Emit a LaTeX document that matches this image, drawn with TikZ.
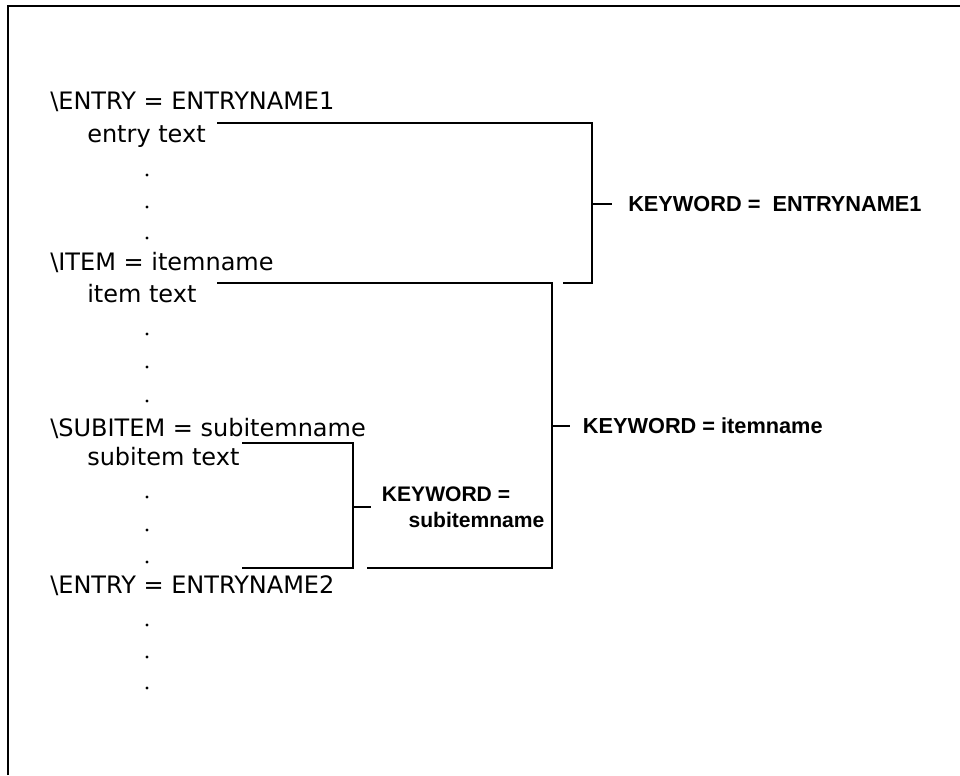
\documentclass[tikz,border=0pt]{standalone}
\usepackage{fontspec}
\setmainfont{DejaVu Sans}
\newfontfamily\kwfont{Liberation Sans}
\usetikzlibrary{positioning}

\begin{document}
\begin{tikzpicture}[
  x=0.75pt, y=-0.75pt,
  codeline/.style={inner sep=0pt, anchor=mid west, font=\fontsize{18}{21}\selectfont},
  vdot/.style={circle, fill, inner sep=0pt, minimum size=2.6pt},
  keyword/.style={inner sep=0pt, align=left, font=\kwfont\fontsize{16.3}{19.5}\selectfont\bfseries},
  bracket/.style={line width=1.5pt},
  frame/.style={line width=2.2pt}
]
\useasboundingbox (0,0) rectangle (960,775);

% Frame (left and top edges only)
\draw[frame] (8,775) -- (8,6) -- (960,6);

% Index source lines
\node[codeline] (entryA) at (50,106) {\textbackslash ENTRY = ENTRYNAME1};
\node[codeline] (entryAtxt) at (87,139) {entry text};
\node[vdot] (dA1) at (147,175) {};
\node[vdot] (dA2) at (147,207) {};
\node[vdot] (dA3) at (147,238) {};
\node[codeline] (item) at (50,267) {\textbackslash ITEM = itemname};
\node[codeline] (itemtxt) at (87,299) {item text};
\node[vdot] (dB1) at (147,334) {};
\node[vdot] (dB2) at (147,367) {};
\node[vdot] (dB3) at (147,401) {};
\node[codeline] (subitem) at (50,433) {\textbackslash SUBITEM = subitemname};
\node[codeline] (subitemtxt) at (87,462) {subitem text};
\node[vdot] (dC1) at (147,497) {};
\node[vdot] (dC2) at (147,530) {};
\node[vdot] (dC3) at (147,562) {};
\node[codeline] (entryB) at (50,590) {\textbackslash ENTRY = ENTRYNAME2};
\node[vdot] (dD1) at (147,625) {};
\node[vdot] (dD2) at (147,657) {};
\node[vdot] (dD3) at (147,688) {};

% Bracket corners
\coordinate (b1top) at (217,123);
\coordinate (b1mid) at (592,204);
\coordinate (b1bot) at (563,283);
\coordinate (b2top) at (217,283);
\coordinate (b2mid) at (552,426);
\coordinate (b2bot) at (367,568);
\coordinate (b3top) at (242,443);
\coordinate (b3mid) at (353,507);
\coordinate (b3bot) at (242,568);

% Brackets
\draw[bracket] (b1top) -| (b1mid) |- (b1bot);
\draw[bracket] (b2top) -| (b2mid) |- (b2bot);
\draw[bracket] (b3top) -| (b3mid) |- (b3bot);

% Ticks and keyword labels
\draw[bracket] (b1mid) -- ++(20,0) coordinate (b1tick);
\node[keyword, right=12pt of b1tick] (kwA) {KEYWORD = \ ENTRYNAME1};
\draw[bracket] (b2mid) -- ++(18,0) coordinate (b2tick);
\node[keyword, right=9.5pt of b2tick] (kwB) {KEYWORD = itemname};
\draw[bracket] (b3mid) -- ++(18,0) coordinate (b3tick);
\node[keyword, right=8pt of b3tick, font=\kwfont\fontsize{15.8}{19.5}\selectfont\bfseries] (kwC) {KEYWORD =\\\hspace*{20pt}subitemname};

\end{tikzpicture}
\end{document}
